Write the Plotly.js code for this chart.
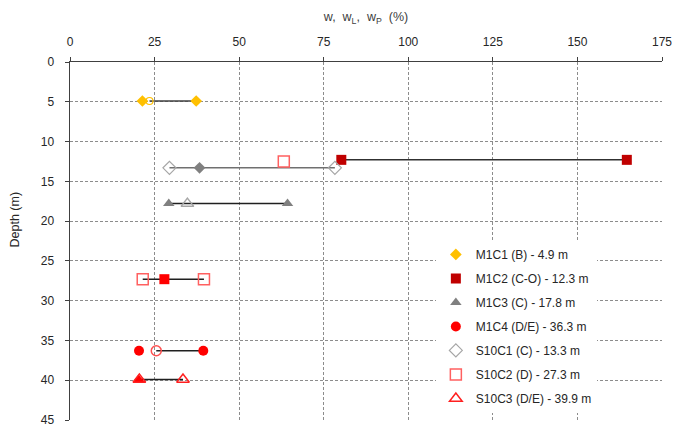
<!DOCTYPE html>
<html>
<head>
<meta charset="utf-8">
<script src="https://cdn.plot.ly/plotly-3.0.1.min.js"></script>
<style>html,body{margin:0;padding:0;background:#fff;}#chart{width:673px;height:428px;}</style>
</head>
<body>
<div id="chart"></div>
<script>
// ---- data ----
const legendNames = ['M1C1 (B) - 4.9 m', 'M1C2 (C-O) - 12.3 m', 'M1C3 (C) - 17.8 m', 'M1C4 (D/E) - 36.3 m',
                     'S10C1 (C) - 13.3 m', 'S10C2 (D) - 27.3 m', 'S10C3 (D/E) - 39.9 m'];
const depths = [4.9, 12.3, 17.8, 36.3, 13.3, 27.3, 39.9];
// markers shown in the legend for each sample
const legendMarkX = [[21.4, 37.3], [80.2, 164.6], [29.2, 64.3], [20.4, 39.4], [29.4, 78.3], [21.5, 39.6], [20.5, 33.4]];
// extra markers (natural water content etc.) per sample
const extraMarkX = [[23.5], [63.2], [34.7], [25.5], [38.3], [27.9], [20.3]];
const extraMarkDepth = [4.9, 12.5, 17.8, 36.3, 13.3, 27.3, 39.9];
// horizontal range lines
const lineFrom = [23.5, 80.2, 29.2, 25.5, 29.4, 21.5, 20.5];
const lineTo = [37.3, 164.6, 64.3, 39.4, 78.3, 39.6, 33.4];
const xTicks = [0, 25, 50, 75, 100, 125, 150, 175];
const yTicks = [0, 5, 10, 15, 20, 25, 30, 35, 40, 45];

// ---- styles ----
const legendMarkers = [
  {symbol: 'diamond', color: '#FFC000', size: 9},
  {symbol: 'square', color: '#C00000', size: 10},
  {symbol: 'triangle-up', color: '#808080', size: 10},
  {symbol: 'circle', color: '#FF0000', size: 10},
  {symbol: 'diamond-open', color: '#A6A6A6', size: 10, line: {width: 1.2, color: '#A6A6A6'}},
  {symbol: 'square-open', color: '#FF6060', size: 11, line: {width: 1.5, color: '#FF6060'}},
  {symbol: 'triangle-up-open', color: '#FF2020', size: 11, line: {width: 1.5, color: '#FF2020'}}
];
const extraMarkers = [
  {symbol: 'circle-open', color: '#FFC000', size: 7, line: {width: 1.2, color: '#FFC000'}},
  {symbol: 'square-open', color: '#FF6060', size: 11, line: {width: 1.5, color: '#FF6060'}},
  {symbol: 'triangle-up-open', color: '#A6A6A6', size: 11, line: {width: 1.5, color: '#A6A6A6'}},
  {symbol: 'circle-open', color: '#FF5050', size: 10, line: {width: 1.5, color: '#FF5050'}},
  {symbol: 'diamond', color: '#808080', size: 9},
  {symbol: 'square', color: '#FF0000', size: 10},
  {symbol: 'triangle-up', color: '#FF0000', size: 10}
];
const lineColors = ['#404040', '#303030', '#202020', '#202020', '#707070', '#202020', '#202020'];

const traces = [];
for (let i = 0; i < legendNames.length; i++) {
  traces.push({x: [lineFrom[i], lineTo[i]], y: [depths[i], depths[i]], mode: 'lines', type: 'scatter',
    line: {color: lineColors[i], width: 1.5}, showlegend: false, hoverinfo: 'skip', legendgroup: 'g' + i});
}
for (let i = 0; i < legendNames.length; i++) {
  traces.push({x: extraMarkX[i], y: extraMarkX[i].map(() => extraMarkDepth[i]), mode: 'markers', type: 'scatter',
    marker: extraMarkers[i], showlegend: false, legendgroup: 'g' + i});
}
for (let i = 0; i < legendNames.length; i++) {
  traces.push({x: legendMarkX[i], y: legendMarkX[i].map(() => depths[i]), mode: 'markers', type: 'scatter',
    name: legendNames[i], marker: legendMarkers[i], legendgroup: 'g' + i});
}

const fontFam = 'Liberation Sans, Arial, sans-serif';
const layout = {
  width: 673, height: 428,
  margin: {l: 70, r: 11, t: 62, b: 8},
  paper_bgcolor: '#fff', plot_bgcolor: '#fff',
  font: {family: fontFam, size: 12, color: '#262626'},
  showlegend: true,
  legend: {x: 0.618, y: 0.503, xanchor: 'left', yanchor: 'top', bgcolor: 'rgba(255,255,255,1)',
    font: {family: fontFam, size: 12, color: '#262626'}, traceorder: 'grouped', tracegroupgap: 5, itemwidth: 30},
  xaxis: {side: 'top', range: [0, 175], tickvals: xTicks, ticktext: xTicks.map(String),
    showgrid: true, gridcolor: '#8c8c8c', griddash: '3px,2px', gridwidth: 1,
    showline: true, linecolor: '#404040', linewidth: 1.5, ticks: 'outside', ticklen: 4, tickcolor: '#404040',
    ticklabelstandoff: 6, zeroline: false,
    title: {text: 'w,  w<sub>L</sub>,  w<sub>P</sub>  (%)', font: {size: 12.5, color: '#404040'}, standoff: 10}},
  yaxis: {range: [45, 0], tickvals: yTicks, ticktext: yTicks.map(String),
    showgrid: true, gridcolor: '#8c8c8c', griddash: '3px,2px', gridwidth: 1,
    showline: true, linecolor: '#404040', linewidth: 1.5, ticks: 'outside', ticklen: 4, tickcolor: '#404040',
    ticklabelstandoff: 8, zeroline: false},
  annotations: [{text: 'Depth (m)', textangle: -90, xref: 'paper', yref: 'paper', x: 0, y: 0.56,
    xshift: -64, showarrow: false, font: {family: fontFam, size: 12.5, color: '#262626'}}]
};
Plotly.newPlot('chart', traces, layout, {displayModeBar: false, staticPlot: true});
</script>
</body>
</html>
